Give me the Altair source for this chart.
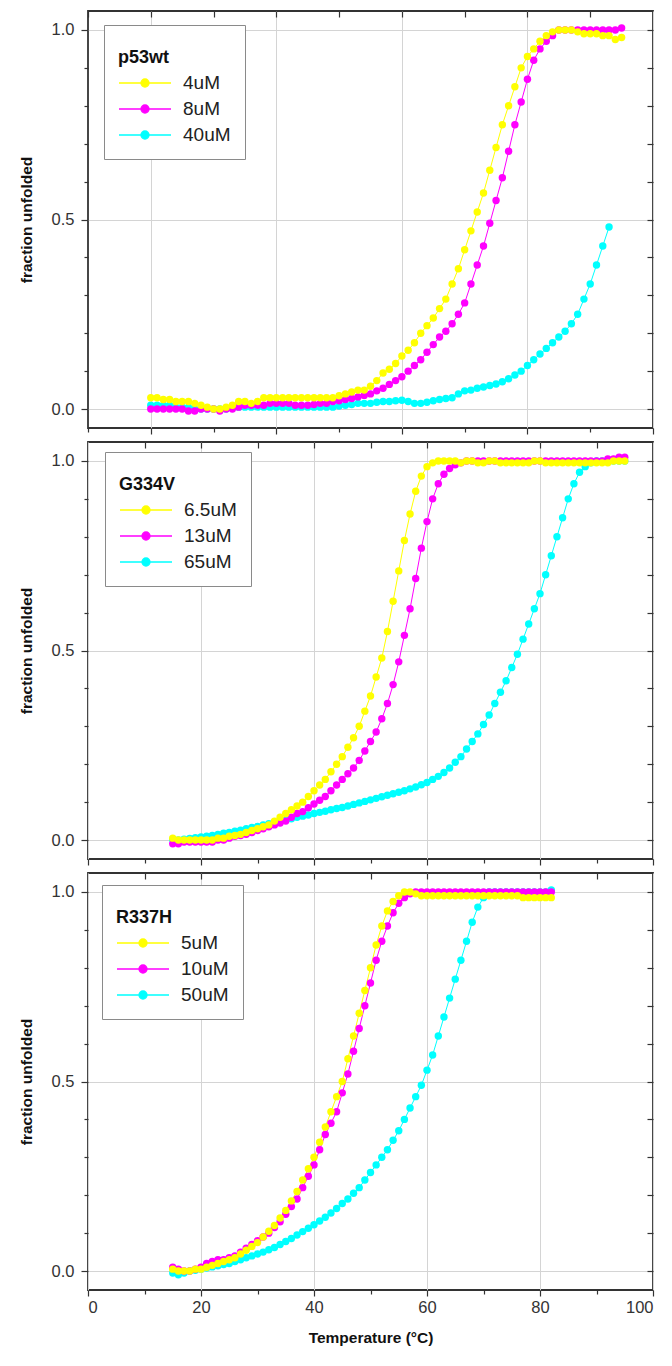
import altair as alt
import pandas as pd

FONT = "Liberation Sans"
COLORS = ["#FFFF00", "#FF00FF", "#00FFFF"]

# ---------------- data ----------------
# Panel 1: p53wt
p53wt_names = ["4uM", "8uM", "40uM"]
p53wt_T = list(range(20, 96))
p53wt_4uM = [0.03, 0.03, 0.025, 0.025, 0.02, 0.02, 0.02, 0.015, 0.01, 0.005,
             0.0, 0.0, 0.005, 0.01, 0.02, 0.02, 0.015, 0.02, 0.03, 0.03,
             0.03, 0.03, 0.03, 0.03, 0.03, 0.03, 0.03, 0.03, 0.03, 0.03,
             0.035, 0.04, 0.045, 0.05, 0.05, 0.06, 0.075, 0.095, 0.105, 0.12,
             0.14, 0.155, 0.175, 0.20, 0.22, 0.24, 0.265, 0.29, 0.33, 0.37,
             0.42, 0.47, 0.52, 0.57, 0.63, 0.69, 0.75, 0.80, 0.85, 0.90,
             0.93, 0.95, 0.97, 0.985, 0.995, 1.0, 1.0, 1.0, 0.995, 0.99,
             0.99, 0.99, 0.985, 0.985, 0.975, 0.98]
p53wt_8uM = [0.0, 0.0, 0.0, 0.0, 0.0, 0.0, -0.005, -0.005, 0.0, 0.0,
             0.0, -0.005, 0.0, 0.0, 0.005, 0.01, 0.01, 0.01, 0.01, 0.015,
             0.015, 0.015, 0.015, 0.01, 0.01, 0.01, 0.012, 0.015, 0.015, 0.02,
             0.022, 0.025, 0.028, 0.032, 0.036, 0.04, 0.048, 0.055, 0.065, 0.075,
             0.085, 0.10, 0.115, 0.13, 0.15, 0.17, 0.19, 0.205, 0.225, 0.25,
             0.28, 0.33, 0.38, 0.43, 0.49, 0.55, 0.61, 0.68, 0.75, 0.81,
             0.87, 0.92, 0.95, 0.97, 0.985, 1.0, 1.0, 1.0, 1.0, 1.0,
             1.0, 1.0, 1.0, 1.0, 1.0, 1.005]
p53wt_40uM_T = list(range(20, 94))
p53wt_40uM = [0.01, 0.01, 0.01, 0.01, 0.005, 0.005, 0.005, 0.0, 0.0, 0.0,
              0.0, 0.0, 0.0, 0.005, 0.005, 0.005, 0.005, 0.005, 0.005, 0.005,
              0.005, 0.005, 0.005, 0.005, 0.005, 0.005, 0.005, 0.005, 0.005, 0.005,
              0.008, 0.01, 0.012, 0.015, 0.015, 0.015, 0.018, 0.02, 0.02, 0.022,
              0.023, 0.02, 0.015, 0.015, 0.018, 0.022, 0.025, 0.028, 0.03, 0.04,
              0.048, 0.05, 0.055, 0.058, 0.062, 0.066, 0.072, 0.08, 0.09, 0.10,
              0.115, 0.13, 0.145, 0.16, 0.175, 0.19, 0.205, 0.225, 0.25, 0.29,
              0.33, 0.38, 0.43, 0.48]

# Panel 2: G334V
g334v_names = ["6.5uM", "13uM", "65uM"]
g334v_T = list(range(15, 96))
g334v_6_5uM = [0.005, 0.0, 0.0, 0.0, 0.0, 0.0, 0.0, 0.0, 0.005, 0.005,
               0.01, 0.012, 0.015, 0.02, 0.025, 0.03, 0.035, 0.04, 0.05, 0.06,
               0.07, 0.08, 0.09, 0.10, 0.115, 0.13, 0.145, 0.16, 0.18, 0.20,
               0.22, 0.245, 0.27, 0.30, 0.34, 0.38, 0.43, 0.48, 0.55, 0.63,
               0.71, 0.79, 0.86, 0.92, 0.96, 0.985, 0.995, 1.0, 1.0, 1.0,
               1.0, 0.995, 1.0, 1.0, 0.995, 0.995, 1.0, 1.0, 0.995, 0.995,
               0.995, 0.995, 0.995, 0.995, 1.0, 1.0, 0.995, 0.995, 0.995, 0.995,
               0.995, 0.995, 0.995, 0.995, 0.995, 0.995, 0.995, 0.995, 1.0, 1.0,
               1.0]
g334v_13uM = [-0.01, -0.01, -0.005, -0.005, -0.005, -0.005, -0.005, -0.005, 0.0, 0.0,
              0.005, 0.01, 0.012, 0.015, 0.02, 0.025, 0.03, 0.035, 0.04, 0.045,
              0.05, 0.06, 0.07, 0.075, 0.085, 0.095, 0.105, 0.115, 0.13, 0.145,
              0.16, 0.175, 0.19, 0.21, 0.235, 0.26, 0.285, 0.32, 0.36, 0.41,
              0.47, 0.54, 0.61, 0.69, 0.77, 0.84, 0.90, 0.94, 0.965, 0.98,
              0.99, 0.995, 1.0, 1.0, 1.0, 1.0, 1.0, 1.0, 1.0, 1.0,
              1.0, 1.0, 1.0, 1.0, 1.0, 1.0, 1.0, 1.0, 1.0, 1.0,
              1.0, 1.0, 1.0, 1.0, 1.0, 1.0, 1.0, 1.005, 1.005, 1.01,
              1.01]
g334v_65uM = [0.0, 0.0, 0.002, 0.004, 0.006, 0.008, 0.01, 0.012, 0.015, 0.018,
              0.02, 0.023, 0.026, 0.03, 0.033, 0.036, 0.04, 0.043, 0.046, 0.05,
              0.053, 0.056, 0.06, 0.063, 0.066, 0.07, 0.073, 0.076, 0.08, 0.083,
              0.086, 0.09, 0.094, 0.098, 0.102, 0.106, 0.11, 0.114, 0.118, 0.122,
              0.126, 0.13, 0.135, 0.14, 0.146, 0.152, 0.16, 0.168, 0.178, 0.19,
              0.205, 0.22, 0.24, 0.26, 0.28, 0.305, 0.33, 0.36, 0.39, 0.42,
              0.455, 0.49, 0.53, 0.57, 0.61, 0.65, 0.70, 0.75, 0.80, 0.85,
              0.90, 0.94, 0.97, 0.985, 0.995, 1.0, 1.0, 1.0, 1.0, 1.0,
              1.0]

# Panel 3: R337H
r337h_names = ["5uM", "10uM", "50uM"]
r337h_T = list(range(15, 83))
r337h_5uM = [0.005, 0.0, 0.0, 0.0, 0.005, 0.005, 0.01, 0.015, 0.02, 0.025,
             0.03, 0.035, 0.045, 0.055, 0.065, 0.075, 0.09, 0.105, 0.12, 0.14,
             0.16, 0.185, 0.21, 0.24, 0.27, 0.30, 0.34, 0.38, 0.42, 0.46,
             0.50, 0.56, 0.62, 0.68, 0.74, 0.80, 0.86, 0.91, 0.95, 0.975,
             0.99, 1.0, 1.0, 0.995, 0.99, 0.99, 0.99, 0.99, 0.99, 0.99,
             0.99, 0.99, 0.99, 0.99, 0.99, 0.99, 0.99, 0.99, 0.99, 0.99,
             0.99, 0.99, 0.985, 0.985, 0.985, 0.985, 0.985, 0.985]
r337h_10uM = [0.01, 0.005, 0.0, 0.0, 0.005, 0.01, 0.02, 0.025, 0.03, 0.03,
              0.035, 0.04, 0.05, 0.06, 0.07, 0.08, 0.09, 0.10, 0.115, 0.13,
              0.15, 0.17, 0.19, 0.22, 0.25, 0.28, 0.32, 0.36, 0.39, 0.42,
              0.47, 0.52, 0.58, 0.64, 0.70, 0.76, 0.82, 0.87, 0.91, 0.945,
              0.97, 0.985, 0.995, 1.0, 1.0, 1.0, 1.0, 1.0, 1.0, 1.0,
              1.0, 1.0, 1.0, 1.0, 1.0, 1.0, 1.0, 1.0, 1.0, 1.0,
              1.0, 1.0, 1.0, 1.0, 1.0, 1.0, 1.0, 1.0]
r337h_50uM = [-0.005, -0.01, -0.005, 0.0, 0.002, 0.005, 0.008, 0.011, 0.014, 0.017,
              0.02, 0.025, 0.03, 0.035, 0.04, 0.045, 0.05, 0.056, 0.062, 0.07,
              0.078, 0.086, 0.095, 0.104, 0.113, 0.122, 0.132, 0.142, 0.153, 0.165,
              0.178, 0.19, 0.205, 0.22, 0.24, 0.26, 0.28, 0.30, 0.32, 0.345,
              0.37, 0.40, 0.43, 0.46, 0.49, 0.53, 0.57, 0.62, 0.67, 0.72,
              0.77, 0.82, 0.87, 0.92, 0.96, 0.985, 1.0, 1.0, 1.0, 1.0,
              1.0, 1.0, 1.0, 1.0, 1.0, 1.0, 1.0, 1.005]

# axis tick values
Y_MAJOR = [0.0, 0.5, 1.0]
Y_MINOR = [0.1, 0.2, 0.3, 0.4, 0.6, 0.7, 0.8, 0.9]
Y_ALL = [0.0, 0.1, 0.2, 0.3, 0.4, 0.5, 0.6, 0.7, 0.8, 0.9, 1.0]
X_MAJOR = [0, 20, 40, 60, 80, 100]
X_MINOR = [10, 30, 50, 70, 90]
X_ALL = [10, 20, 30, 40, 50, 60, 70, 80, 90]

PLOT_W = 565
PLOT_H = 417

LEGEND_PATH = "M-1,0L4.2,0M2,0A0.4,0.4,0,1,1,1.2,0A0.4,0.4,0,1,1,2,0Z"


def make_panel(title, names, temps, values, xdom, show_x, lx, ly):
    rows = []
    # draw cyan first, yellow last (on top)
    for nm, ts, vs in reversed(list(zip(names, temps, values))):
        for t, v in zip(ts, vs):
            rows.append({"T": t, "f": v, "s": nm})
    df = pd.DataFrame(rows)

    xs = alt.Scale(domain=xdom, nice=False, zero=False)
    ys = alt.Scale(domain=[-0.05, 1.05], nice=False, zero=False)

    legend = alt.Legend(
        title=["", title], titleLineHeight=10, orient="none", legendX=lx, legendY=ly,
        symbolType=LEGEND_PATH, symbolSize=400, symbolStrokeWidth=1.3,
        labelOffset=43, rowPadding=5, padding=14, titlePadding=5,
        strokeColor="#8a8a8a", fillColor="white",
        titleFontSize=18, titleFontWeight="bold", titleColor="#111",
        labelFontSize=19, labelColor="#222",
    )
    color = alt.Color("s:N", scale=alt.Scale(domain=names, range=COLORS),
                      legend=legend, sort=names)

    x_major_vals = [v for v in X_MAJOR if xdom[0] <= v <= xdom[1]]
    if show_x:
        xa = alt.Axis(orient="bottom", values=x_major_vals, grid=True, domain=False,
                      tickSize=6, labels=True, labelPadding=3, format="d",
                      title="Temperature (°C)", titlePadding=15)
    else:
        xa = alt.Axis(orient="bottom", values=x_major_vals, grid=True, domain=False,
                      tickSize=6, labels=False, title=None)
    ya = alt.Axis(orient="left", values=Y_MAJOR, grid=True, domain=False, tickSize=7,
                  format=".1f", labelPadding=7, title="fraction unfolded",
                  titlePadding=17)

    base = alt.Chart(df)
    line = base.mark_line(strokeWidth=1).encode(
        x=alt.X("T:Q", scale=xs, axis=xa),
        y=alt.Y("f:Q", scale=ys, axis=ya),
        color=color,
        detail="s:N",
    )
    pts = base.mark_point(filled=True, size=55, opacity=1).encode(
        x=alt.X("T:Q", scale=xs, axis=None),
        y=alt.Y("f:Q", scale=ys, axis=None),
        color=color,
    )
    minor = base.mark_point(opacity=0).encode(
        x=alt.X("T:Q", scale=xs, axis=alt.Axis(orient="bottom", values=X_MINOR,
                                                grid=False, domain=False,
                                                labels=False, tickSize=4, title=None)),
        y=alt.Y("f:Q", scale=ys, axis=alt.Axis(orient="left", values=Y_MINOR,
                                                grid=False, domain=False,
                                                labels=False, tickSize=4, title=None)),
    )
    mirror = base.mark_point(opacity=0).encode(
        x=alt.X("T:Q", scale=xs, axis=alt.Axis(orient="top", values=X_ALL, grid=False,
                                                domain=False, labels=False, tickSize=6,
                                                offset=-6, title=None,
                                                minExtent=0, maxExtent=0)),
        y=alt.Y("f:Q", scale=ys, axis=alt.Axis(orient="right", values=Y_ALL, grid=False,
                                                domain=False, labels=False, tickSize=6,
                                                offset=-6, title=None,
                                                minExtent=0, maxExtent=0)),
    )
    return alt.layer(line, pts, minor, mirror).resolve_axis(
        x="independent", y="independent"
    ).properties(width=PLOT_W, height=PLOT_H)


p1 = make_panel("p53wt", p53wt_names, [p53wt_T, p53wt_T, p53wt_40uM_T],
                [p53wt_4uM, p53wt_8uM, p53wt_40uM], [10, 100], False, 16, 14)
p2 = make_panel("G334V", g334v_names, [g334v_T, g334v_T, g334v_T],
                [g334v_6_5uM, g334v_13uM, g334v_65uM], [0, 100], False, 17, 10)
p3 = make_panel("R337H", r337h_names, [r337h_T, r337h_T, r337h_T],
                [r337h_5uM, r337h_10uM, r337h_50uM], [0, 100], True, 14, 12)

chart = alt.vconcat(p1, p2, p3, spacing=14, bounds="flush").resolve_scale(
    color="independent"
).resolve_legend(
    color="independent"
).properties(
    padding={"left": 10, "top": 1, "right": 5, "bottom": 5}
).configure_view(
    stroke="#333", strokeWidth=1.8
).configure_axis(
    labelFont=FONT, titleFont=FONT, labelFontSize=16.5, titleFontSize=15.5,
    labelColor="#333", titleColor="#111", titleFontWeight="bold",
    tickColor="#333", tickWidth=1.2, gridColor="#d4d4d4", gridWidth=1,
).configure_legend(
    labelFont=FONT, titleFont=FONT,
)

chart.save("out.html", embed_options={"renderer": "svg", "actions": False})
